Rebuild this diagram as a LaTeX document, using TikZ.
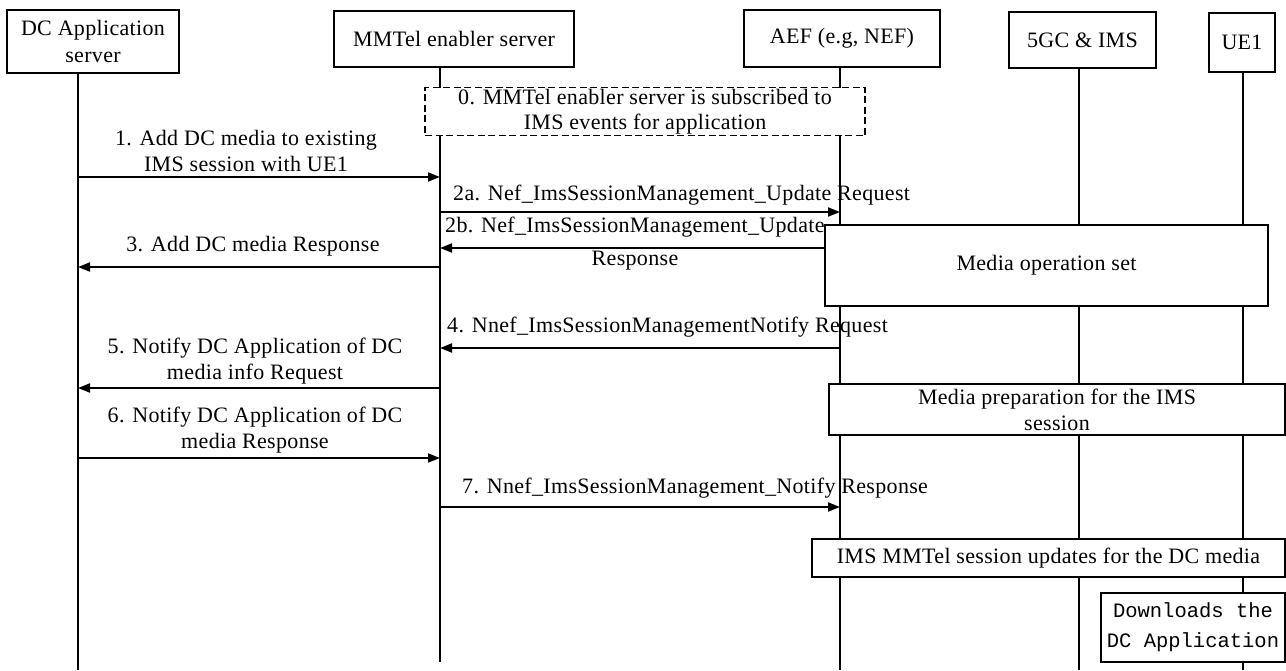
\documentclass[tikz,border=0pt]{standalone}
\usepackage{fontspec}
\setmainfont{Liberation Serif}[LetterSpace=1.5]
\newfontfamily\dcmono{Liberation Mono}
\usetikzlibrary{arrows.meta}
\begin{document}
\begin{tikzpicture}[x=1pt,y=-1pt,
  lw/.style={line width=1.9pt},
  actor/.style={draw, lw, fill=white, inner sep=0pt, align=center, font=\fontsize{22}{27}\selectfont},
  life/.style={lw},
  msg/.style={lw, -{Triangle[length=12pt,width=9pt]}},
  lbl/.style={inner sep=0pt, align=center, font=\fontsize{22}{26}\selectfont},
  phase/.style={draw, lw, fill=white, inner sep=0pt, align=center, font=\fontsize{22}{26}\selectfont},
  dbox/.style={draw, lw, dash pattern=on 7pt off 3.5pt, fill=white, inner sep=0pt, align=center, font=\fontsize{22}{25}\selectfont}
]
\useasboundingbox (0,0) rectangle (1286,670);

% actors
\node[actor, minimum width=172, minimum height=63] (dc) at (93,41.5) {DC Application\\server};
\node[actor, minimum width=240, minimum height=56] (mm) at (454,39) {MMTel enabler server};
\node[actor, minimum width=196, minimum height=57] (aef) at (842,38.5) {AEF (e.g, NEF)};
\node[actor, minimum width=147, minimum height=56] (g5) at (1082.5,40) {5GC \& IMS};
\node[actor, minimum width=66, minimum height=59] (ue) at (1242,42.5) {UE1};

% lifeline ends
\coordinate (dcB) at (78,670);
\coordinate (mmB) at (440,662);
\coordinate (aefB) at (840,670);
\coordinate (g5B) at (1079,670);
\coordinate (ueB) at (1243,670);

\draw[life] (dc.south -| dcB) -- (dcB);
\draw[life] (mm.south -| mmB) -- (mmB);
\draw[life] (aef.south -| aefB) -- (aefB);
\draw[life] (g5.south -| g5B) -- (g5B);
\draw[life] (ue.south -| ueB) -- (ueB);

% step 0
\node[dbox, minimum width=440, minimum height=48] (s0) at (645,111.5) {0. MMTel enabler server is subscribed to\\IMS events for application};

% step 1
\draw[msg] (dcB |- 0,177) -- (mmB |- 0,177);
\node[lbl] (l1) at (246,151) {1. Add DC media to existing\\IMS session with UE1};

% step 2a
\draw[msg] (mmB |- 0,212) -- (aefB |- 0,212);
\node[lbl, anchor=west] (l2a) at (453,195) {2a. Nef\_ImsSessionManagement\_Update Request};

% media operation set
\node[phase, minimum width=443, minimum height=81] (mop) at (1046.5,265.5) {Media operation set};

% step 2b
\draw[msg] (mop.west |- 0,248) -- (mmB |- 0,248);
\node[lbl, anchor=west] (l2b) at (445,227) {2b. Nef\_ImsSessionManagement\_Update};
\node[lbl] (l2bb) at (635,261) {Response};

% step 3
\draw[msg] (mmB |- 0,267) -- (dcB |- 0,267);
\node[lbl] (l3) at (253,246) {3. Add DC media Response};

% step 4
\draw[msg] (aefB |- 0,348) -- (mmB |- 0,348);
\node[lbl, anchor=west] (l4) at (447,327) {4. Nnef\_ImsSessionManagementNotify Request};

% step 5
\draw[msg] (mmB |- 0,388) -- (dcB |- 0,388);
\node[lbl] (l5) at (255,361) {5. Notify DC Application of DC\\media info Request};

% media preparation
\node[phase, minimum width=456, minimum height=51] (mprep) at (1057,409.5) {Media preparation for the IMS\\session};

% step 6
\draw[msg] (dcB |- 0,458) -- (mmB |- 0,458);
\node[lbl] (l6) at (255,430) {6. Notify DC Application of DC\\media Response};

% step 7
\draw[msg] (mmB |- 0,507) -- (aefB |- 0,507);
\node[lbl, anchor=west] (l7) at (462,488) {7. Nnef\_ImsSessionManagement\_Notify Response};

% IMS MMTel session updates
\node[phase, minimum width=473, minimum height=38] (ims) at (1048.5,558) {IMS MMTel session updates for the DC media};

% downloads
\node[phase, minimum width=184, minimum height=69, font=\dcmono\fontsize{20.5}{30}\selectfont] (dl) at (1193,627.5) {Downloads the\\DC Application};
\end{tikzpicture}
\end{document}
